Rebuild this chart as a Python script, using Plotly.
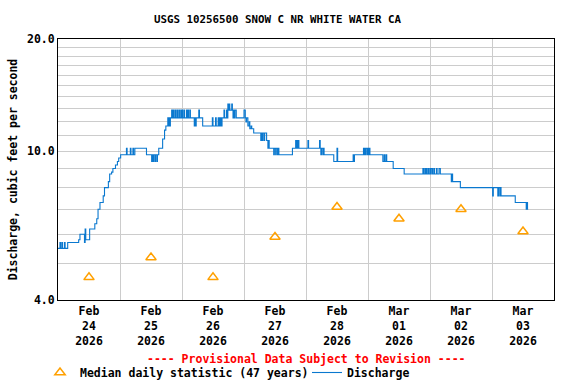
import math
import pandas as pd
import plotly.graph_objects as go

# ---------------- data ----------------
start = pd.Timestamp("2026-02-24 00:00")

# Discharge (cfs): step change points, hours after Feb 24 00:00
flow_hours = [
    0.0, 0.75, 1.0, 1.5, 1.75, 2.5, 2.75, 3.75,
    8.0, 8.5, 10.25, 10.5, 10.75, 12.25, 14.25, 15.0, 15.5, 16.25, 17.5, 18.0, 19.5, 20.0, 20.75, 21.25, 22.25, 23.0, 23.5, 24.25,
    26.5, 26.75, 28.0, 28.25, 29.0, 29.25, 29.75,
    34.25, 36.25, 36.5, 36.75, 37.0, 37.5, 37.75, 38.25, 38.5,
    39.0, 40.5, 41.25, 41.75, 42.5, 42.75, 43.0, 43.25, 43.5,
    44.0, 44.25, 44.5, 44.75, 45.25, 45.5, 46.0, 46.25, 46.75, 47.0, 47.5, 47.75, 48.0, 48.25, 48.75, 49.0, 49.75, 50.0, 50.25, 50.5, 51.0, 51.25,
    52.75, 53.0, 53.25, 53.5, 54.5, 54.75,
    56.0, 59.75, 60.0, 61.0, 61.25, 62.0, 62.25, 62.5, 62.75, 63.0, 63.25, 63.5,
    64.25, 64.5, 65.25, 65.5, 65.75, 66.0, 66.25, 66.5, 67.25, 67.5, 67.75, 68.0, 68.25, 68.5, 69.0,
    72.0, 72.5, 72.75, 73.0, 73.5, 74.0, 74.25, 74.75, 75.0, 75.75,
    78.5, 78.75, 79.0, 79.25, 79.75, 80.0, 80.75, 81.25, 81.5, 81.75,
    83.5, 83.75, 84.25, 84.5, 85.0, 85.25, 85.5,
    90.75, 92.0, 92.25, 92.5, 92.75, 93.0, 93.25, 96.75, 97.0,
    101.25, 101.5, 101.75, 102.0, 102.5, 102.75, 103.0,
    106.75, 108.0, 108.25, 114.25, 114.5, 114.75,
    118.25, 118.5, 118.75, 119.0, 119.25, 119.75, 120.0, 120.25, 120.5, 120.75,
    125.75, 126.25, 126.5, 127.0, 127.25,
    129.75, 134.0, 141.25, 141.5, 142.0, 142.25, 142.5, 142.75, 143.25, 143.5, 144.0, 144.25, 144.5, 145.0, 145.5, 145.75, 146.5, 146.75, 147.5, 148.0,
    152.25, 152.5, 152.75, 155.75, 168.25, 168.5, 170.25, 170.5, 171.0, 171.25, 171.5, 177.0, 181.25, 181.5, 181.75, 182.0,
]
flow_cfs = [
    5.5, 5.7, 5.5, 5.7, 5.5, 5.7, 5.5, 5.7,
    5.8, 6.0, 5.7, 6.2, 5.8, 6.2, 6.4, 6.6, 7.0, 7.3, 7.6, 8.0, 8.3, 8.7, 8.8, 9.0, 9.2, 9.4, 9.6, 9.8,
    10.2, 9.8, 10.2, 9.8, 10.2, 9.8, 10.2,
    9.8, 9.4, 9.8, 9.4, 9.8, 9.4, 9.8, 9.4, 9.8,
    10.2, 10.8, 11.4, 11.7, 12.3, 11.7, 12.3, 11.7, 12.3,
    12.9, 12.3, 12.9, 12.3, 12.9, 12.3, 12.9, 12.3, 12.9, 12.3, 12.9, 12.3, 12.9, 12.3, 12.9, 12.3, 12.9, 12.3, 12.9, 12.3, 12.9, 12.3,
    11.7, 12.3, 11.7, 12.3, 12.9, 12.3,
    11.7, 12.3, 11.7, 12.3, 11.7, 12.3, 11.7, 12.3, 11.7, 12.3, 11.7, 12.3,
    12.9, 12.3, 12.9, 12.3, 13.4, 12.9, 13.4, 12.9, 13.4, 12.9, 12.3, 12.9, 12.3, 12.9, 12.3,
    12.9, 12.3, 12.0, 12.3, 11.7, 12.0, 11.5, 11.7, 11.5, 11.2,
    10.7, 11.2, 10.7, 11.2, 10.7, 11.2, 10.7, 10.2, 10.7, 10.2,
    9.8, 10.2, 9.8, 10.2, 9.8, 10.2, 9.8,
    10.2, 10.7, 10.2, 10.7, 10.2, 10.7, 10.2, 10.7, 10.2,
    10.7, 10.2, 9.8, 10.2, 9.8, 10.2, 9.8,
    9.4, 10.2, 9.4, 9.8, 9.4, 9.8,
    10.2, 9.8, 10.2, 9.8, 10.2, 9.8, 10.2, 9.8, 10.2, 9.8,
    9.4, 9.8, 9.4, 9.8, 9.4,
    9.0, 8.7, 9.0, 8.7, 9.0, 8.7, 9.0, 8.7, 9.0, 8.7, 9.0, 8.7, 9.0, 8.7, 9.0, 8.7, 9.0, 8.7, 9.0, 8.7,
    8.3, 8.7, 8.3, 8.0, 7.6, 8.0, 7.6, 8.0, 7.6, 8.0, 7.6, 7.3, 7.0, 7.3, 7.0, 7.0,
]

# Median daily statistic (47 years), one per day at noon
median_days = ["2026-02-24", "2026-02-25", "2026-02-26", "2026-02-27",
               "2026-02-28", "2026-03-01", "2026-03-02", "2026-03-03"]
median_cfs = [4.6, 5.2, 4.6, 5.9, 7.1, 6.6, 7.0, 6.1]

y_grid_vals = [4, 5, 6, 7, 8, 9, 10, 11, 12, 13, 14, 15, 16, 17, 18, 19, 20]
y_labels = {4: "4.0", 10: "10.0", 20: "20.0"}

# ---------------- figure ----------------
flow_times = [start + pd.Timedelta(hours=h) for h in flow_hours]
median_times = [pd.Timestamp(d) + pd.Timedelta(hours=12) for d in median_days]

FONT = "DejaVu Sans Mono"

fig = go.Figure()
fig.add_trace(go.Scatter(
    x=median_times, y=median_cfs, mode="markers",
    name="Median daily statistic (47 years)",
    marker=dict(symbol="triangle-up-open", size=9, color="#ffa000",
                line=dict(width=1.5, color="#ffa000")),
))
fig.add_trace(go.Scatter(
    x=flow_times, y=flow_cfs, mode="lines", line_shape="hv",
    name="Discharge", line=dict(color="#0a78cf", width=1.1),
))

plot_top, plot_bottom = 39, 300
ph = plot_bottom - plot_top

fig.update_layout(
    width=576, height=384,
    margin=dict(l=58, r=22, t=plot_top, b=384 - plot_bottom, autoexpand=False),
    paper_bgcolor="white", plot_bgcolor="white",
    font=dict(family=FONT, size=11.5, color="black", weight="bold"),
    title=dict(text="USGS 10256500 SNOW C NR WHITE WATER CA",
               x=277.5 / 576, xanchor="center", y=1 - 19 / 384, yanchor="middle",
               font=dict(family=FONT, size=10.8, color="black", weight="bold")),
    showlegend=True,
    legend=dict(orientation="h", x=(40 - 58) / 496, xanchor="left",
                y=(plot_bottom - 358) / ph, yanchor="top",
                bgcolor="rgba(0,0,0,0)", borderwidth=0,
                entrywidth=222, entrywidthmode="pixels",
                font=dict(family=FONT, size=11.5, color="black", weight="bold"),
                itemclick=False),
)

fig.update_yaxes(
    type="log", range=[math.log10(4), math.log10(20)],
    tickmode="array", tickvals=y_grid_vals,
    ticktext=[y_labels.get(v, "") for v in y_grid_vals],
    showgrid=True, gridcolor="#cccccc", gridwidth=1,
    showline=True, linecolor="black", linewidth=1, mirror=True,
    ticks="", zeroline=False, automargin=False,
    title=dict(text="Discharge, cubic feet per second", standoff=6,
               font=dict(family=FONT, size=11.5, color="black", weight="bold")),
)
fig.update_xaxes(
    type="date", range=["2026-02-24", "2026-03-04"],
    tick0="2026-02-24", dtick=86400000, tickformat="%b<br>%d<br>%Y",
    ticklabelmode="period",
    showgrid=True, gridcolor="#cccccc", gridwidth=1,
    showline=True, linecolor="black", linewidth=1, mirror=True,
    ticks="", zeroline=False, automargin=False,
)

fig.add_annotation(
    text="---- Provisional Data Subject to Revision ----",
    xref="paper", yref="paper", x=0.5, y=(plot_bottom - 359) / ph,
    xanchor="center", yanchor="middle", showarrow=False,
    font=dict(family=FONT, size=11.5, color="red", weight="bold"),
)

fig.write_html(
    "out.html",
    config={"displayModeBar": False},
    post_script="document.body.style.margin='0';document.body.style.overflow='hidden';",
)
